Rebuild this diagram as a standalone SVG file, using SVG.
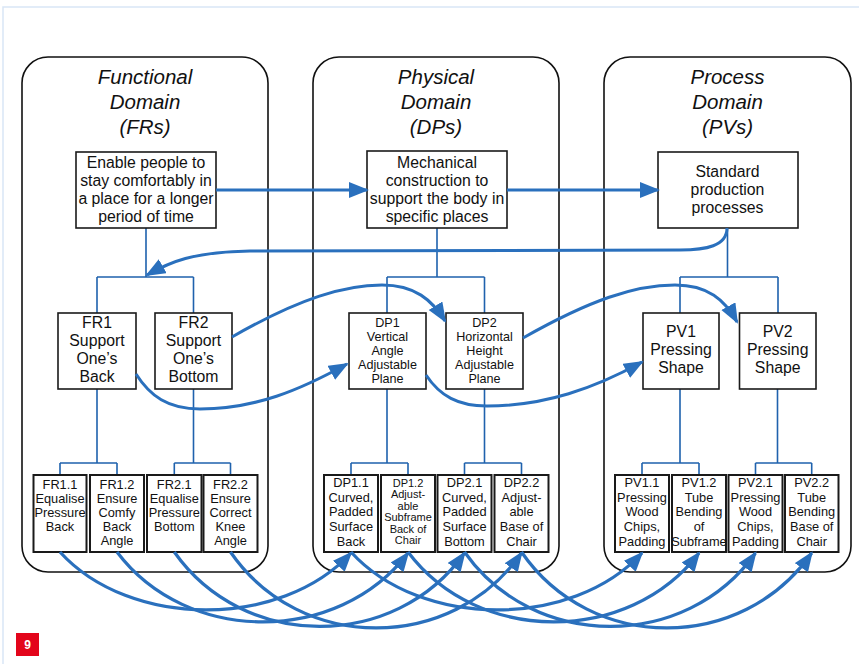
<svg xmlns="http://www.w3.org/2000/svg" width="859" height="664" viewBox="0 0 859 664">
  <defs>
    <style>
      text { font-family: "Liberation Sans", Arial, sans-serif; fill: #111; text-anchor: middle; }
      .title { font-size: 20.5px; font-style: italic; }
      .big { font-size: 15.8px; }
      .mid { font-size: 12.6px; }
      .sm { font-size: 12.8px; }
      .xs { font-size: 11px; }
      .panel { fill: #fff; stroke: #111; stroke-width: 1.6; }
      .box { fill: #fff; stroke: #1a1a1a; stroke-width: 1.6; }
      .leaf { fill: #fff; stroke: #1a1a1a; stroke-width: 2; }
      .tree { fill: none; stroke: #1f62ad; stroke-width: 1.6; }
      .flow { fill: none; stroke: #2a70bd; stroke-width: 3; marker-end: url(#ah); }
      .arcA { fill: none; stroke: #2a70bd; stroke-width: 3.2; marker-end: url(#ah); }
    </style>
    <marker id="ah" markerUnits="userSpaceOnUse" markerWidth="22" markerHeight="18" refX="18" refY="8" orient="auto">
      <path d="M0,0 L20,8 L0,16 z" fill="#2a70bd"/>
    </marker>
  </defs>

  <rect width="859" height="664" fill="#fff"/>
  <!-- page edge -->
  <path d="M3,664 V7 H859" fill="none" stroke="#d9e6f6" stroke-width="1.5"/>

  <!-- domain panels -->
  <g id="functional-domain">
    <rect class="panel" x="22" y="57" width="246" height="515" rx="26"/>
    <text class="title" x="145" y="84">Functional</text>
    <text class="title" x="145" y="109">Domain</text>
    <text class="title" x="145" y="134">(FRs)</text>
  </g>
  <g id="physical-domain">
    <rect class="panel" x="313" y="57" width="246" height="515" rx="26"/>
    <text class="title" x="436" y="84">Physical</text>
    <text class="title" x="436" y="109">Domain</text>
    <text class="title" x="436" y="134">(DPs)</text>
  </g>
  <g id="process-domain">
    <rect class="panel" x="604" y="57" width="247" height="515" rx="26"/>
    <text class="title" x="727.5" y="84">Process</text>
    <text class="title" x="727.5" y="109">Domain</text>
    <text class="title" x="727.5" y="134">(PVs)</text>
  </g>

  <!-- decomposition lines -->
  <g id="tree">
    <path class="tree" d="M146,228 V277 M97,277 H193.5 M97,277 V313 M193.5,277 V313"/>
    <path class="tree" d="M97,389 V463 M60,463 H117 M60,463 V475 M117,463 V475"/>
    <path class="tree" d="M193.5,389 V463 M174.3,463 H230.5 M174.3,463 V475 M230.5,463 V475"/>
    <path class="tree" d="M437,228 V277 M387,277 H484.5 M387,277 V313 M484.5,277 V313"/>
    <path class="tree" d="M387,389 V463 M351,463 H408 M351,463 V475 M408,463 V475"/>
    <path class="tree" d="M484.5,389 V463 M464.5,463 H521.5 M464.5,463 V475 M521.5,463 V475"/>
    <path class="tree" d="M727.5,228 V277 M680,277 H778 M680,277 V313 M778,277 V313"/>
    <path class="tree" d="M680,389 V463 M642,463 H699 M642,463 V475 M699,463 V475"/>
    <path class="tree" d="M777.5,389 V463 M755.5,463 H811.7 M755.5,463 V475 M811.7,463 V475"/>
  </g>

  <!-- top level -->
  <g id="fr0">
    <rect class="box" x="76" y="152" width="140" height="76"/>
    <text class="big" x="146" y="168">Enable people to</text>
    <text class="big" x="146" y="186">stay comfortably in</text>
    <text class="big" x="146" y="204">a place for a longer</text>
    <text class="big" x="146" y="222">period of time</text>
  </g>
  <g id="dp0">
    <rect class="box" x="367" y="151" width="140" height="77"/>
    <text class="big" x="437" y="168">Mechanical</text>
    <text class="big" x="437" y="186">construction to</text>
    <text class="big" x="437" y="204">support the body in</text>
    <text class="big" x="437" y="222">specific places</text>
  </g>
  <g id="pv0">
    <rect class="box" x="658" y="152" width="140" height="76"/>
    <text class="big" x="727.5" y="177">Standard</text>
    <text class="big" x="727.5" y="195">production</text>
    <text class="big" x="727.5" y="213">processes</text>
  </g>

  <!-- second level -->
  <g id="fr1">
    <rect class="box" x="58" y="313" width="78" height="76"/>
    <text class="big" x="97" y="328">FR1</text>
    <text class="big" x="97" y="346">Support</text>
    <text class="big" x="97" y="364">One’s</text>
    <text class="big" x="97" y="382">Back</text>
  </g>
  <g id="fr2">
    <rect class="box" x="155" y="313" width="77" height="76"/>
    <text class="big" x="193.5" y="328">FR2</text>
    <text class="big" x="193.5" y="346">Support</text>
    <text class="big" x="193.5" y="364">One’s</text>
    <text class="big" x="193.5" y="382">Bottom</text>
  </g>
  <g id="dp1">
    <rect class="box" x="349" y="313" width="77" height="76"/>
    <text class="mid" x="387.5" y="327">DP1</text>
    <text class="mid" x="387.5" y="341">Vertical</text>
    <text class="mid" x="387.5" y="355">Angle</text>
    <text class="mid" x="387.5" y="369">Adjustable</text>
    <text class="mid" x="387.5" y="383">Plane</text>
  </g>
  <g id="dp2">
    <rect class="box" x="446" y="313" width="77" height="76"/>
    <text class="mid" x="484.5" y="327">DP2</text>
    <text class="mid" x="484.5" y="341">Horizontal</text>
    <text class="mid" x="484.5" y="355">Height</text>
    <text class="mid" x="484.5" y="369">Adjustable</text>
    <text class="mid" x="484.5" y="383">Plane</text>
  </g>
  <g id="pv1">
    <rect class="box" x="643" y="313" width="76" height="76"/>
    <text class="big" x="681" y="337">PV1</text>
    <text class="big" x="681" y="355">Pressing</text>
    <text class="big" x="681" y="373">Shape</text>
  </g>
  <g id="pv2">
    <rect class="box" x="739.5" y="313" width="76.5" height="76"/>
    <text class="big" x="777.7" y="337">PV2</text>
    <text class="big" x="777.7" y="355">Pressing</text>
    <text class="big" x="777.7" y="373">Shape</text>
  </g>

  <!-- third level: functional -->
  <g id="fr1-1">
    <rect class="leaf" x="33.5" y="475" width="53" height="77"/>
    <text class="sm" x="60" y="489">FR1.1</text>
    <text class="sm" x="60" y="503">Equalise</text>
    <text class="sm" x="60" y="517">Pressure</text>
    <text class="sm" x="60" y="531">Back</text>
  </g>
  <g id="fr1-2">
    <rect class="leaf" x="90" y="475" width="54" height="77"/>
    <text class="sm" x="117" y="489">FR1.2</text>
    <text class="sm" x="117" y="503">Ensure</text>
    <text class="sm" x="117" y="517">Comfy</text>
    <text class="sm" x="117" y="531">Back</text>
    <text class="sm" x="117" y="545">Angle</text>
  </g>
  <g id="fr2-1">
    <rect class="leaf" x="147" y="475" width="54.5" height="77"/>
    <text class="sm" x="174.3" y="489">FR2.1</text>
    <text class="sm" x="174.3" y="503">Equalise</text>
    <text class="sm" x="174.3" y="517">Pressure</text>
    <text class="sm" x="174.3" y="531">Bottom</text>
  </g>
  <g id="fr2-2">
    <rect class="leaf" x="203.5" y="475" width="54" height="77"/>
    <text class="sm" x="230.5" y="489">FR2.2</text>
    <text class="sm" x="230.5" y="503">Ensure</text>
    <text class="sm" x="230.5" y="517">Correct</text>
    <text class="sm" x="230.5" y="531">Knee</text>
    <text class="sm" x="230.5" y="545">Angle</text>
  </g>

  <!-- third level: physical -->
  <g id="dp1-1">
    <rect class="leaf" x="324" y="475" width="54" height="77"/>
    <text class="sm" x="351" y="487">DP1.1</text>
    <text class="sm" x="351" y="501.7">Curved,</text>
    <text class="sm" x="351" y="516.4">Padded</text>
    <text class="sm" x="351" y="531.1">Surface</text>
    <text class="sm" x="351" y="545.8">Back</text>
  </g>
  <g id="dp1-2">
    <rect class="leaf" x="381" y="475" width="54" height="77"/>
    <text class="xs" x="408" y="486.5">DP1.2</text>
    <text class="xs" x="408" y="498">Adjust-</text>
    <text class="xs" x="408" y="509.5">able</text>
    <text class="xs" x="408" y="521">Subframe</text>
    <text class="xs" x="408" y="532.5">Back of</text>
    <text class="xs" x="408" y="544">Chair</text>
  </g>
  <g id="dp2-1">
    <rect class="leaf" x="437.5" y="475" width="54" height="77"/>
    <text class="sm" x="464.5" y="487">DP2.1</text>
    <text class="sm" x="464.5" y="501.7">Curved,</text>
    <text class="sm" x="464.5" y="516.4">Padded</text>
    <text class="sm" x="464.5" y="531.1">Surface</text>
    <text class="sm" x="464.5" y="545.8">Bottom</text>
  </g>
  <g id="dp2-2">
    <rect class="leaf" x="494.5" y="475" width="54" height="77"/>
    <text class="sm" x="521.5" y="487">DP2.2</text>
    <text class="sm" x="521.5" y="501.7">Adjust-</text>
    <text class="sm" x="521.5" y="516.4">able</text>
    <text class="sm" x="521.5" y="531.1">Base of</text>
    <text class="sm" x="521.5" y="545.8">Chair</text>
  </g>

  <!-- third level: process -->
  <g id="pv1-1">
    <rect class="leaf" x="615" y="475" width="54" height="77"/>
    <text class="sm" x="642" y="487">PV1.1</text>
    <text class="sm" x="642" y="501.7">Pressing</text>
    <text class="sm" x="642" y="516.4">Wood</text>
    <text class="sm" x="642" y="531.1">Chips,</text>
    <text class="sm" x="642" y="545.8">Padding</text>
  </g>
  <g id="pv1-2">
    <rect class="leaf" x="672" y="475" width="54" height="77"/>
    <text class="sm" x="699" y="487">PV1.2</text>
    <text class="sm" x="699" y="501.7">Tube</text>
    <text class="sm" x="699" y="516.4">Bending</text>
    <text class="sm" x="699" y="531.1">of</text>
    <text class="sm" x="699" y="545.8">Subframe</text>
  </g>
  <g id="pv2-1">
    <rect class="leaf" x="728.5" y="475" width="54" height="77"/>
    <text class="sm" x="755.5" y="487">PV2.1</text>
    <text class="sm" x="755.5" y="501.7">Pressing</text>
    <text class="sm" x="755.5" y="516.4">Wood</text>
    <text class="sm" x="755.5" y="531.1">Chips,</text>
    <text class="sm" x="755.5" y="545.8">Padding</text>
  </g>
  <g id="pv2-2">
    <rect class="leaf" x="785" y="475" width="53.5" height="77"/>
    <text class="sm" x="811.7" y="487">PV2.2</text>
    <text class="sm" x="811.7" y="501.7">Tube</text>
    <text class="sm" x="811.7" y="516.4">Bending</text>
    <text class="sm" x="811.7" y="531.1">Base of</text>
    <text class="sm" x="811.7" y="545.8">Chair</text>
  </g>

  <!-- mapping arrows between domains -->
  <g id="connectors">
    <path class="flow" d="M216,190 H367"/>
    <path class="flow" d="M507,190 H658"/>
    <path class="flow" d="M727,228 C727,246 706,250 680,250 L250,251 C192,252 170,262 147,275"/>
    <path class="flow" d="M232,337 C300,298 345,285 382,285 C415,285 432,300 445,321"/>
    <path class="flow" d="M136,374 C150,396 168,409 200,409 C255,409 300,390 347,364"/>
    <path class="flow" d="M523,338 C590,300 635,285 675,285 C708,285 725,300 737,322"/>
    <path class="flow" d="M426,375 C440,396 458,406 487,406 C545,406 595,388 642,362"/>

    <path class="arcA" d="M60,552 C130,629 281,629 351,553"/>
    <path class="arcA" d="M117,552 C187,645 338,645 408,553"/>
    <path class="arcA" d="M174.3,552 C244,651 395,651 464.5,553"/>
    <path class="arcA" d="M230.5,552 C300,653 452,653 521.5,553"/>

    <path class="arcA" d="M351,552 C421,629 572,629 642,553"/>
    <path class="arcA" d="M408,552 C478,645 629,645 699,553"/>
    <path class="arcA" d="M464.5,552 C534,651 686,651 755.5,553"/>
    <path class="arcA" d="M521.5,552 C591,653 742,653 811.7,553"/>
  </g>

  <!-- page number -->
  <g id="page-number">
    <rect x="16" y="633" width="23" height="23" fill="#e3051b"/>
    <text x="27.5" y="649" style="font-size:12px;font-weight:bold;fill:#fff">9</text>
  </g>
</svg>
